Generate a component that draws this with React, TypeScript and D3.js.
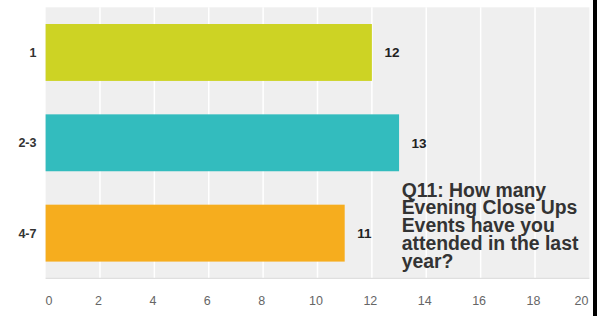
import * as d3 from 'd3';
import React from 'react';

const categories = ['1', '2-3', '4-7'];
const counts = [12, 13, 11];
const barColors = ['#cdd324', '#33bcbe', '#f6ad1e'];
const xTicks = [0, 2, 4, 6, 8, 10, 12, 14, 16, 18, 20];
const titleLines = ['Q11: How many', 'Evening Close Ups', 'Events have you', 'attended in the last', 'year?'];

const W = 597;
const H = 316;
const plot = { left: 45.6, right: 589.4, top: 7.3, bottom: 278.3 };

// nudge first / last tick label so they stay inside the frame
function tickX(v: number, px: number) {
    if (v === 0) return px + 3.5;
    if (v === 20) return px - 8;
    return px - 1.5;
}

const App = () => {
    const x = d3.scaleLinear().domain([0, 20]).range([plot.left, plot.right]);
    const y = d3
        .scaleBand()
        .domain(categories)
        .range([plot.top, plot.bottom])
        .paddingInner(0.37)
        .paddingOuter(0.185);

    const font = '"Liberation Sans", Arial, sans-serif';

    return (
        <svg
            width={W}
            height={H}
            style={{ position: 'absolute', left: 0, top: 0, background: '#fff' }}
            fontFamily={font}
        >
            {/* plot background */}
            <rect
                x={plot.left}
                y={plot.top}
                width={plot.right - plot.left}
                height={plot.bottom - plot.top}
                fill="#efefef"
            />
            {xTicks.slice(1, -1).map((t) => (
                <line key={t} x1={x(t)} x2={x(t)} y1={plot.top} y2={plot.bottom} stroke="#fff" strokeWidth={1.5} />
            ))}
            <line x1={plot.left} x2={plot.right} y1={plot.bottom} y2={plot.bottom} stroke="#d9d9d9" strokeWidth={1} />

            {/* bars */}
            {categories.map((c, i) => (
                <rect
                    key={c}
                    x={x(0)}
                    y={y(c)}
                    width={x(counts[i]) - x(0)}
                    height={y.bandwidth()}
                    fill={barColors[i]}
                />
            ))}

            {/* value labels */}
            {categories.map((c, i) => (
                <text
                    key={c}
                    x={x(counts[i]) + 12.5}
                    y={(y(c) as number) + y.bandwidth() / 2 + 5}
                    fontSize={13.5}
                    fontWeight="bold"
                    fill="#222"
                >
                    {counts[i]}
                </text>
            ))}

            {/* category labels */}
            {categories.map((c) => (
                <text
                    key={c}
                    x={36.5}
                    y={(y(c) as number) + y.bandwidth() / 2 + 4.5}
                    textAnchor="end"
                    fontSize={12.5}
                    fontWeight="bold"
                    fill="#333"
                >
                    {c}
                </text>
            ))}

            {/* x tick labels */}
            {xTicks.map((t) => (
                <text
                    key={t}
                    x={tickX(t, x(t))}
                    y={305}
                    textAnchor="middle"
                    fontSize={12.5}
                    fill="#666"
                >
                    {t}
                </text>
            ))}

            {/* title */}
            <text x={401.7} y={196.7} fontSize={19.4} fontWeight="bold" fill="#333">
                {titleLines.map((l, i) => (
                    <tspan key={i} x={401.7} dy={i === 0 ? 0 : 17.7}>
                        {l}
                    </tspan>
                ))}
            </text>

            {/* right border */}
            <rect x={593} y={0} width={4} height={H} fill="#000" />
        </svg>
    );
};

export default App;
